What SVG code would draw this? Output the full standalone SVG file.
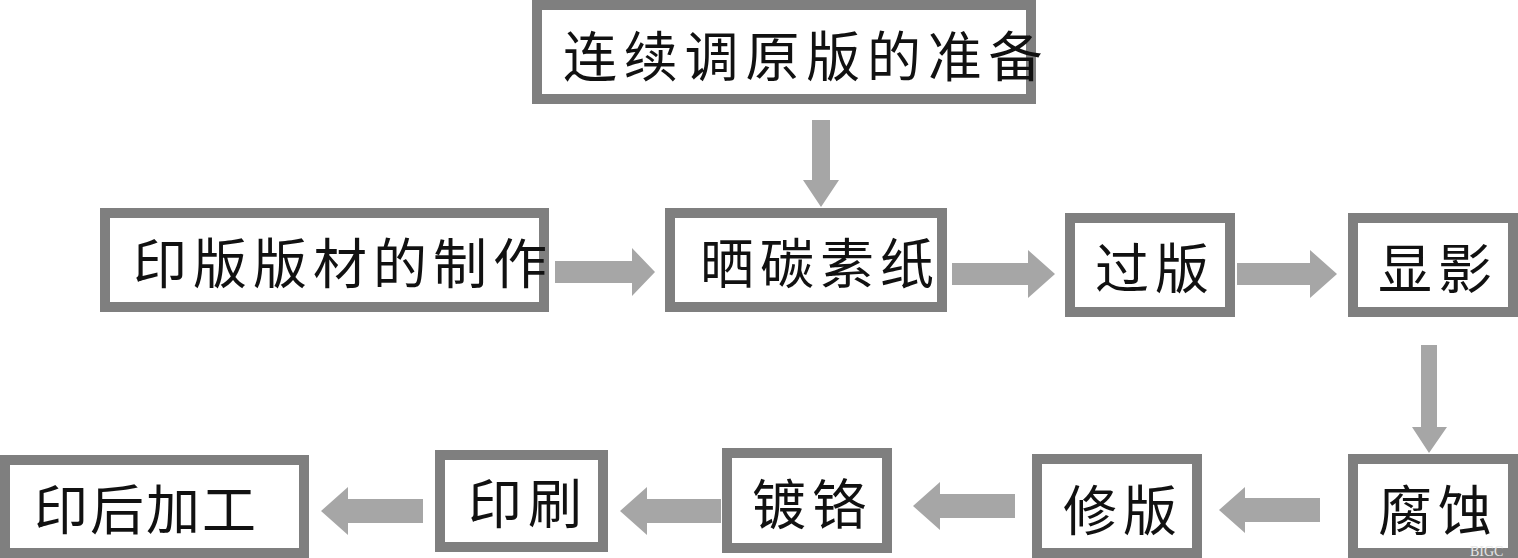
<svg xmlns="http://www.w3.org/2000/svg" width="1518" height="558" viewBox="0 0 1518 558">
<style>
.box{fill:#fff;stroke:#7f7f7f;stroke-width:10}
.lbl{font-family:"Noto Sans CJK SC","Noto Sans CJK JP",sans-serif;font-size:54px;letter-spacing:6px;fill:#111}
.arr{fill:#a6a6a6}
.wm{font-family:"Liberation Serif",serif;font-size:14px;fill:#e6e6e6}
</style>
<rect width="1518" height="558" fill="#fff"/>
<g id="connectors">
<polygon class="arr" points="812,120 830,120 830,180 839,180 821,207 803,180 812,180"/>
<polygon class="arr" points="555,261 632,261 632,248 655,272 632,296 632,283 555,283"/>
<polygon class="arr" points="952,263 1028,263 1028,250 1055,274 1028,298 1028,285 952,285"/>
<polygon class="arr" points="1237,263 1310,263 1310,250 1337,274 1310,298 1310,285 1237,285"/>
<polygon class="arr" points="1421,345 1437,345 1437,427 1447,427 1429,453 1412,427 1421,427"/>
<polygon class="arr" points="1320,498 1245,498 1245,487 1219,510 1245,533 1245,522 1320,522"/>
<polygon class="arr" points="1015,494 940,494 940,482 913,506 940,530 940,518 1015,518"/>
<polygon class="arr" points="721,499 647,499 647,487 620,511 647,535 647,523 721,523"/>
<polygon class="arr" points="423,499 348,499 348,487 321,511 348,535 348,523 423,523"/>
</g>
<g id="n1"><rect class="box" x="537" y="5" width="494" height="94"/><text class="lbl" x="563" y="77" style="letter-spacing:6.8px">连续调原版的准备</text></g>
<g id="n2"><rect class="box" x="105" y="213" width="439" height="94"/><text class="lbl" x="133" y="284">印版版材的制作</text></g>
<g id="n3"><rect class="box" x="670" y="213" width="272" height="94"/><text class="lbl" x="700" y="284">晒碳素纸</text></g>
<g id="n4"><rect class="box" x="1070" y="218" width="160" height="94"/><text class="lbl" x="1095" y="289">过版</text></g>
<g id="n5"><rect class="box" x="1353" y="218" width="160" height="94"/><text class="lbl" x="1378" y="289">显影</text></g>
<g id="n6"><rect class="box" x="1353" y="459" width="160" height="94"/><text class="lbl" x="1378" y="531">腐蚀</text></g>
<g id="n7"><rect class="box" x="1037" y="459" width="160" height="94"/><text class="lbl" x="1063" y="531">修版</text></g>
<g id="n8"><rect class="box" x="727" y="453" width="160" height="95"/><text class="lbl" x="752" y="525">镀铬</text></g>
<g id="n9"><rect class="box" x="440" y="455" width="163" height="92"/><text class="lbl" x="468" y="524">印刷</text></g>
<g id="n10"><rect class="box" x="5" y="460" width="299" height="93"/><text class="lbl" x="34" y="530" style="letter-spacing:2px">印后加工</text></g>
<text class="wm" x="1470" y="556">BIGC</text>
</svg>
